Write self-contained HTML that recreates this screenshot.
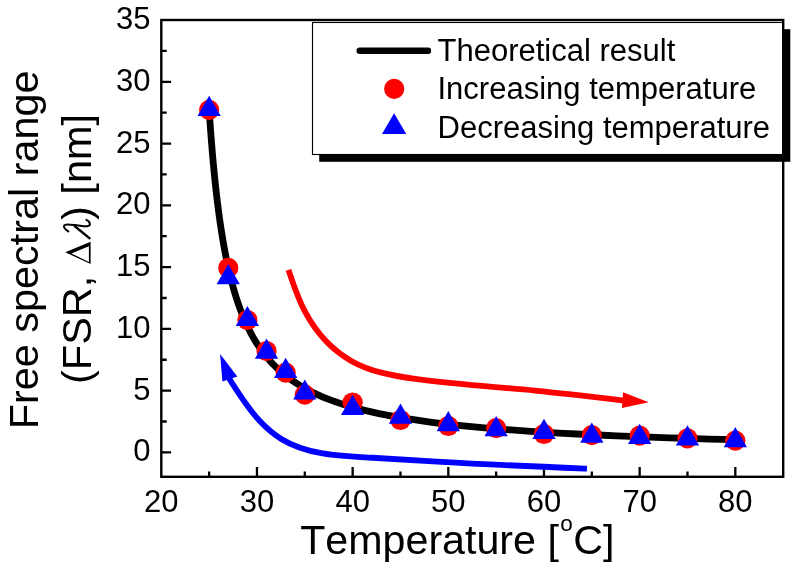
<!DOCTYPE html>
<html><head><meta charset="utf-8"><style>
html,body{margin:0;padding:0;background:#fff;}
svg{display:block;will-change:transform;}
text{font-family:"Liberation Sans",sans-serif;fill:#000;font-kerning:none;font-feature-settings:"kern" 0;}
</style></head><body>
<svg width="798" height="569" viewBox="0 0 798 569">
<rect width="798" height="569" fill="#fff"/>
<!-- legend shadow + box -->
<rect x="319.2" y="29.2" width="471.1" height="132.6" fill="#000"/>
<rect x="312.5" y="22.5" width="470.3" height="132" fill="#fff" stroke="#000" stroke-width="1.1"/>
<!-- frame -->
<rect x="161.3" y="20" width="621.9" height="456.8" fill="none" stroke="#000" stroke-width="2.4"/>
<path d="M209.14,476.8 V471.60 M256.97,476.8 V467.00 M304.81,476.8 V471.60 M352.64,476.8 V467.00 M400.48,476.8 V471.60 M448.31,476.8 V467.00 M496.15,476.8 V471.60 M543.98,476.8 V467.00 M591.82,476.8 V471.60 M639.65,476.8 V467.00 M687.49,476.8 V471.60 M735.32,476.8 V467.00 M161.3,452.40 H171.10 M161.3,421.51 H166.70 M161.3,390.63 H171.10 M161.3,359.75 H166.70 M161.3,328.86 H171.10 M161.3,297.98 H166.70 M161.3,267.09 H171.10 M161.3,236.20 H166.70 M161.3,205.32 H171.10 M161.3,174.44 H166.70 M161.3,143.55 H171.10 M161.3,112.67 H166.70 M161.3,81.78 H171.10 M161.3,50.89 H166.70" stroke="#000" stroke-width="2.3" fill="none"/>
<g font-size="31">
<text x="150.6" y="461.40" text-anchor="end">0</text>
<text x="150.6" y="399.63" text-anchor="end">5</text>
<text x="150.6" y="337.86" text-anchor="end">10</text>
<text x="150.6" y="276.09" text-anchor="end">15</text>
<text x="150.6" y="214.32" text-anchor="end">20</text>
<text x="150.6" y="152.55" text-anchor="end">25</text>
<text x="150.6" y="90.78" text-anchor="end">30</text>
<text x="150.6" y="29.01" text-anchor="end">35</text>
<text x="161.30" y="511.8" text-anchor="middle">20</text>
<text x="256.97" y="511.8" text-anchor="middle">30</text>
<text x="352.64" y="511.8" text-anchor="middle">40</text>
<text x="448.31" y="511.8" text-anchor="middle">50</text>
<text x="543.98" y="511.8" text-anchor="middle">60</text>
<text x="639.65" y="511.8" text-anchor="middle">70</text>
<text x="735.32" y="511.8" text-anchor="middle">80</text>
</g>
<!-- arrows -->
<path d="M288.50,269.80 C293.27,284.23 298.05,298.66 305.29,312.18 C316.01,332.19 332.15,350.20 351.67,361.17 C370.77,371.90 393.11,375.89 415.23,378.92 C455.51,384.44 495.08,386.80 534.81,390.56 C564.15,393.33 593.58,396.87 623.00,400.40 L632,401.2" stroke="#f00" stroke-width="5.8" fill="none"/>
<path d="M648.7,402.3 L623.1,392.2 L621.9,407.9Z" fill="#f00"/>
<path d="M226.2,370.5 L229.50,379.00 C238.78,393.77 248.05,408.55 260.04,421.25 C266.29,427.87 273.28,433.94 280.89,438.70 C307.09,455.10 340.65,456.13 372.55,457.76 C396.07,458.96 418.70,460.50 441.47,461.84 C489.53,464.67 538.26,466.63 587.00,468.60" stroke="#00f" stroke-width="5.8" fill="none"/>
<path d="M220.1,354 L222.4,381.6 L237.3,376.5Z" fill="#00f"/>
<!-- data -->
<polyline points="209.14,109.57 210.36,127.36 211.59,143.41 212.81,157.95 214.04,171.18 215.27,183.29 216.49,194.40 217.72,204.63 218.95,214.09 220.17,222.86 221.40,231.00 222.63,238.60 223.85,245.69 225.08,252.33 226.31,258.56 227.53,264.41 228.76,269.93 229.99,275.13 231.21,280.05 232.44,284.70 233.67,289.11 234.89,293.30 236.12,297.28 237.35,301.06 238.57,304.67 239.80,308.11 241.03,311.40 242.25,314.54 243.48,317.55 244.70,320.43 245.93,323.19 247.16,325.83 248.38,328.38 249.61,330.82 250.84,333.17 252.06,335.43 253.29,337.61 254.52,339.71 255.74,341.74 256.97,343.69 260.27,348.63 263.57,353.14 266.87,357.28 270.17,361.09 273.46,364.62 276.76,367.88 280.06,370.92 283.36,373.75 286.66,376.39 289.96,378.86 293.26,381.18 296.56,383.37 299.86,385.42 303.16,387.36 306.45,389.19 309.75,390.92 313.05,392.56 316.35,394.12 319.65,395.60 322.95,397.01 326.25,398.36 329.55,399.64 332.85,400.86 336.15,402.03 339.44,403.15 342.74,404.22 346.04,405.25 349.34,406.23 352.64,407.18 365.84,410.62 379.03,413.58 392.23,416.17 405.42,418.44 418.62,420.46 431.82,422.26 445.01,423.87 458.21,425.33 471.40,426.65 484.60,427.85 497.79,428.96 510.99,429.97 524.19,430.90 537.38,431.77 550.58,432.57 563.77,433.31 576.97,434.01 590.17,434.66 603.36,435.27 616.56,435.84 629.75,436.37 642.95,436.88 656.14,437.36 669.34,437.81 682.54,438.24 695.73,438.64 708.93,439.03 722.12,439.39 735.32,439.74" fill="none" stroke="#000" stroke-width="6.8" stroke-linejoin="round"/>
<g fill="#f00"><circle cx="209.14" cy="109.8" r="10.1"/>
<circle cx="228.27" cy="267.9" r="10.1"/>
<circle cx="247.40" cy="320" r="10.1"/>
<circle cx="266.54" cy="351" r="10.1"/>
<circle cx="285.67" cy="372.7" r="10.1"/>
<circle cx="304.81" cy="394.7" r="10.1"/>
<circle cx="352.64" cy="402.5" r="10.1"/>
<circle cx="400.48" cy="420" r="10.1"/>
<circle cx="448.31" cy="426" r="10.1"/>
<circle cx="496.15" cy="428.2" r="10.1"/>
<circle cx="543.98" cy="434" r="10.1"/>
<circle cx="591.82" cy="435.2" r="10.1"/>
<circle cx="639.65" cy="435.7" r="10.1"/>
<circle cx="687.49" cy="438.4" r="10.1"/>
<circle cx="735.32" cy="440.7" r="10.1"/></g>
<g fill="#00f"><path d="M209.14,95.8 L220.79,116.00 L197.49,116.00Z"/>
<path d="M228.27,264.1 L239.92,284.30 L216.62,284.30Z"/>
<path d="M247.40,305.9 L259.05,326.10 L235.75,326.10Z"/>
<path d="M266.54,338.5 L278.19,358.70 L254.89,358.70Z"/>
<path d="M285.67,357.8 L297.32,378.00 L274.02,378.00Z"/>
<path d="M304.81,379.4 L316.45,399.60 L293.16,399.60Z"/>
<path d="M352.64,394.7 L364.29,414.90 L340.99,414.90Z"/>
<path d="M400.48,403.5 L412.12,423.70 L388.83,423.70Z"/>
<path d="M448.31,411 L459.96,431.20 L436.66,431.20Z"/>
<path d="M496.15,416 L507.80,436.20 L484.50,436.20Z"/>
<path d="M543.98,418.8 L555.63,439.00 L532.33,439.00Z"/>
<path d="M591.82,422.6 L603.47,442.80 L580.17,442.80Z"/>
<path d="M639.65,423.8 L651.30,444.00 L628.00,444.00Z"/>
<path d="M687.49,425.3 L699.14,445.50 L675.84,445.50Z"/>
<path d="M735.32,427 L746.97,447.20 L723.67,447.20Z"/></g>
<!-- legend contents -->
<line x1="359.7" y1="50.7" x2="428" y2="50.7" stroke="#000" stroke-width="6.4" stroke-linecap="round"/>
<circle cx="394.2" cy="88.8" r="10.1" fill="#f00"/>
<path d="M394.1,113.2 L406.25,133.9 L381.95000000000005,133.9Z" fill="#00f"/>
<g font-size="31">
<text x="437.5" y="61.2">Theoretical result</text>
<text x="437.5" y="99.1">Increasing temperature</text>
<text x="437.5" y="137.6">Decreasing temperature</text>
</g>
<!-- axis titles -->
<text x="300.2" y="554.4" font-size="41.2">Temperature [<tspan font-size="22.5" dx="1.5" dy="-23.4">o</tspan><tspan dx="0.3" dy="23.4">C]</tspan></text>
<text transform="translate(37.7,249.9) rotate(-90)" text-anchor="middle" font-size="41.4">Free spectral range</text>
<text transform="translate(90.9,384) rotate(-90)" font-size="41.5">(FSR,</text>
<path d="M65.3,252.3 L90.6,241.8 L90.6,263.9 Z M71.4,253.4 L88.9,262 L88.9,246.3 Z" fill="#000" fill-rule="evenodd"/>
<path d="M74.2,225.8 L90.3,238.9" stroke="#000" stroke-width="2.4" fill="none"/>
<path d="M69.0,231.9 C65.6,229.8 63.4,227.6 64.1,225.7 C64.9,223.7 69.5,224.4 75.0,225.1 L83.5,226.2 C87.6,226.7 90.4,225.6 89.8,223.4 C89.3,221.6 87.6,220.3 85.6,219.4" stroke="#000" stroke-width="2.0" fill="none"/>
<text transform="translate(90.9,220) rotate(-90)" font-size="41.5">) [nm]</text>
</svg>
</body></html>
